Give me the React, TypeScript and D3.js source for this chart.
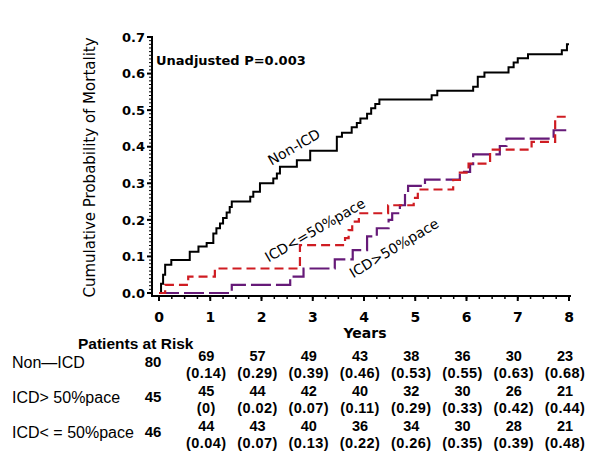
import React from "react";
import * as d3 from "d3";

// ---- data ----
const nonIcdTimes = [0, 0.04, 0.08, 0.12, 0.24, 0.6, 0.77, 0.93, 1.06, 1.12, 1.19, 1.25, 1.32, 1.38, 1.42, 1.78, 1.84, 1.97, 2.23, 2.3, 2.36, 2.69, 2.95, 3.47, 3.57, 3.76, 3.86, 3.93, 4.06, 4.14, 4.22, 4.3, 5.32, 5.43, 6.13, 6.22, 6.35, 6.82, 6.92, 7.0, 7.2, 7.86, 7.96, 8.0];
const nonIcdProb = [0, 0.025, 0.05, 0.077, 0.09, 0.113, 0.127, 0.137, 0.163, 0.177, 0.19, 0.205, 0.22, 0.235, 0.25, 0.263, 0.277, 0.3, 0.313, 0.327, 0.345, 0.363, 0.389, 0.427, 0.438, 0.453, 0.465, 0.477, 0.49, 0.505, 0.517, 0.529, 0.541, 0.553, 0.564, 0.591, 0.603, 0.617, 0.63, 0.642, 0.653, 0.664, 0.68, 0.68];

const icdLowTimes = [0, 0.12, 0.57, 1.09, 2.75, 3.63, 3.7, 3.77, 3.9, 4.47, 4.97, 5.05, 5.74, 5.87, 6.04, 6.46, 7.27, 7.73, 8.0];
const icdLowProb = [0, 0.022, 0.045, 0.067, 0.131, 0.15, 0.172, 0.195, 0.218, 0.24, 0.26, 0.283, 0.309, 0.329, 0.354, 0.392, 0.413, 0.482, 0.482];

const icdHighTimes = [0, 1.42, 2.56, 2.82, 3.43, 3.78, 4.06, 4.25, 4.48, 4.55, 4.7, 4.8, 4.86, 5.19, 5.87, 6.07, 6.13, 6.65, 6.78, 7.7, 8.0];
const icdHighProb = [0, 0.022, 0.045, 0.067, 0.092, 0.117, 0.155, 0.177, 0.2, 0.218, 0.24, 0.273, 0.293, 0.31, 0.331, 0.352, 0.379, 0.402, 0.422, 0.445, 0.445];

const yTicks = [0, 0.1, 0.2, 0.3, 0.4, 0.5, 0.6, 0.7];
const xTicks = [0, 1, 2, 3, 4, 5, 6, 7, 8];

const riskYears = [0, 1, 2, 3, 4, 5, 6, 7, 8];
const rowLabels = ["Non\u2014ICD", "ICD> 50%pace", "ICD< = 50%pace"];
const nonIcdAtRisk = [80, 69, 57, 49, 43, 38, 36, 30, 23];
const nonIcdCum = ["", "(0.14)", "(0.29)", "(0.39)", "(0.46)", "(0.53)", "(0.55)", "(0.63)", "(0.68)"];
const icdHighAtRisk = [45, 45, 44, 42, 40, 32, 30, 26, 21];
const icdHighCum = ["", "(0)", "(0.02)", "(0.07)", "(0.11)", "(0.29)", "(0.33)", "(0.42)", "(0.44)"];
const icdLowAtRisk = [46, 44, 43, 40, 36, 34, 30, 28, 21];
const icdLowCum = ["", "(0.04)", "(0.07)", "(0.13)", "(0.22)", "(0.26)", "(0.35)", "(0.39)", "(0.48)"];

export default function App() {
  const W = 596, H = 461;
  const x = d3.scaleLinear().domain([0, 8]).range([159, 569]);
  const y = d3.scaleLinear().domain([0, 0.7]).range([293, 37]);
  const axisX = 152, axisY = 296;

  const line = d3
    .line<[number, number]>()
    .x((d) => x(d[0]))
    .y((d) => y(d[1]))
    .curve(d3.curveStepAfter);

  const zip = (a: number[], b: number[]) => a.map((t, i) => [t, b[i]] as [number, number]);

  const yMinor = d3.range(0, 71).map((i) => i / 100);
  const xMinor = d3.range(0, 33).map((i) => i / 4);

  const tickFont = "DejaVu Sans, Verdana, sans-serif";
  const tblFont = "Liberation Sans, Arial, sans-serif";

  const rows = [
    { n: nonIcdAtRisk, c: nonIcdCum },
    { n: icdHighAtRisk, c: icdHighCum },
    { n: icdLowAtRisk, c: icdLowCum },
  ];

  return (
    <svg width={W} height={H} style={{ position: "absolute", left: 0, top: 0, background: "#fff" }}>
      {/* axes */}
      <line x1={axisX} y1={y(0.7) - 1} x2={axisX} y2={axisY + 1} stroke="#000" strokeWidth={2} />
      <line x1={axisX - 1} y1={axisY} x2={x(8) + 2} y2={axisY} stroke="#000" strokeWidth={2} />
      {yMinor.map((v, i) => (
        <line key={"ym" + i} x1={axisX - 3} x2={axisX} y1={y(v)} y2={y(v)} stroke="#000" strokeWidth={1} />
      ))}
      {yTicks.map((v) => (
        <g key={"yt" + v}>
          <line x1={axisX - 5} x2={axisX} y1={y(v)} y2={y(v)} stroke="#000" strokeWidth={2} />
          <text x={axisX - 7} y={y(v)} dy="0.36em" textAnchor="end" fontFamily={tickFont} fontWeight="bold" fontSize={13}>
            {v.toFixed(1)}
          </text>
        </g>
      ))}
      {xMinor.map((v, i) => (
        <line key={"xm" + i} x1={x(v)} x2={x(v)} y1={axisY} y2={axisY + 3} stroke="#000" strokeWidth={1.5} />
      ))}
      {xTicks.map((v) => (
        <g key={"xt" + v}>
          <line x1={x(v)} x2={x(v)} y1={axisY} y2={axisY + 5} stroke="#000" strokeWidth={2} />
          <text x={x(v)} y={322} textAnchor="middle" fontFamily={tickFont} fontWeight="bold" fontSize={14}>
            {v}
          </text>
        </g>
      ))}
      <text x={365} y={338} textAnchor="middle" fontFamily={tickFont} fontWeight="bold" fontSize={14}>
        Years
      </text>
      <text
        transform={`translate(90,${(37 + 298) / 2}) rotate(-90)`}
        textAnchor="middle"
        dominantBaseline="central"
        fontFamily={tickFont}
        fontSize={15}
      >
        Cumulative Probability of Mortality
      </text>

      {/* curves */}
      <path d={line(zip(nonIcdTimes, nonIcdProb)) || ""} fill="none" stroke="#000" strokeWidth={2} />
      <path d={line(zip(icdHighTimes, icdHighProb)) || ""} fill="none" stroke="#661a78" strokeWidth={2.2} strokeDasharray="20,5" />
      <path d={line(zip(icdLowTimes, icdLowProb)) || ""} fill="none" stroke="#cf1c22" strokeWidth={2.2} strokeDasharray="9,5" />

      {/* annotations */}
      <text x={156} y={65} fontFamily={tickFont} fontWeight="bold" fontSize={13}>
        Unadjusted P=0.003
      </text>
      <text transform="translate(294,147) rotate(-30)" textAnchor="middle" dominantBaseline="central" fontFamily={tickFont} fontSize={14}>
        Non-ICD
      </text>
      <text transform="translate(315,230) rotate(-30)" textAnchor="middle" dominantBaseline="central" fontFamily={tickFont} fontSize={14}>
        {"ICD<=50%pace"}
      </text>
      <text transform="translate(394,248) rotate(-31)" textAnchor="middle" dominantBaseline="central" fontFamily={tickFont} fontSize={14}>
        {"ICD>50%pace"}
      </text>

      {/* risk table */}
      <text x={78} y={349} fontFamily={tblFont} fontWeight="bold" fontSize={15.5}>
        Patients at Risk
      </text>
      {rows.map((r, ri) => (
        <g key={"row" + ri}>
          <text x={12} y={368 + ri * 35} fontFamily={tblFont} fontSize={16}>
            {rowLabels[ri]}
          </text>
          {riskYears.map((t, ci) =>
            ci === 0 ? (
              <text key={ci} x={x(t) - 6} y={367 + ri * 35} textAnchor="middle" fontFamily={tblFont} fontWeight="bold" fontSize={15}>
                {r.n[ci]}
              </text>
            ) : (
              <g key={ci}>
                <text x={x(t) - 4} y={361 + ri * 35} textAnchor="middle" fontFamily={tblFont} fontWeight="bold" fontSize={14.5}>
                  {r.n[ci]}
                </text>
                <text x={x(t) - 4} y={377.5 + ri * 35} textAnchor="middle" fontFamily={tblFont} fontWeight="bold" fontSize={14.5} letterSpacing={0.4}>
                  {r.c[ci]}
                </text>
              </g>
            )
          )}
        </g>
      ))}
    </svg>
  );
}
